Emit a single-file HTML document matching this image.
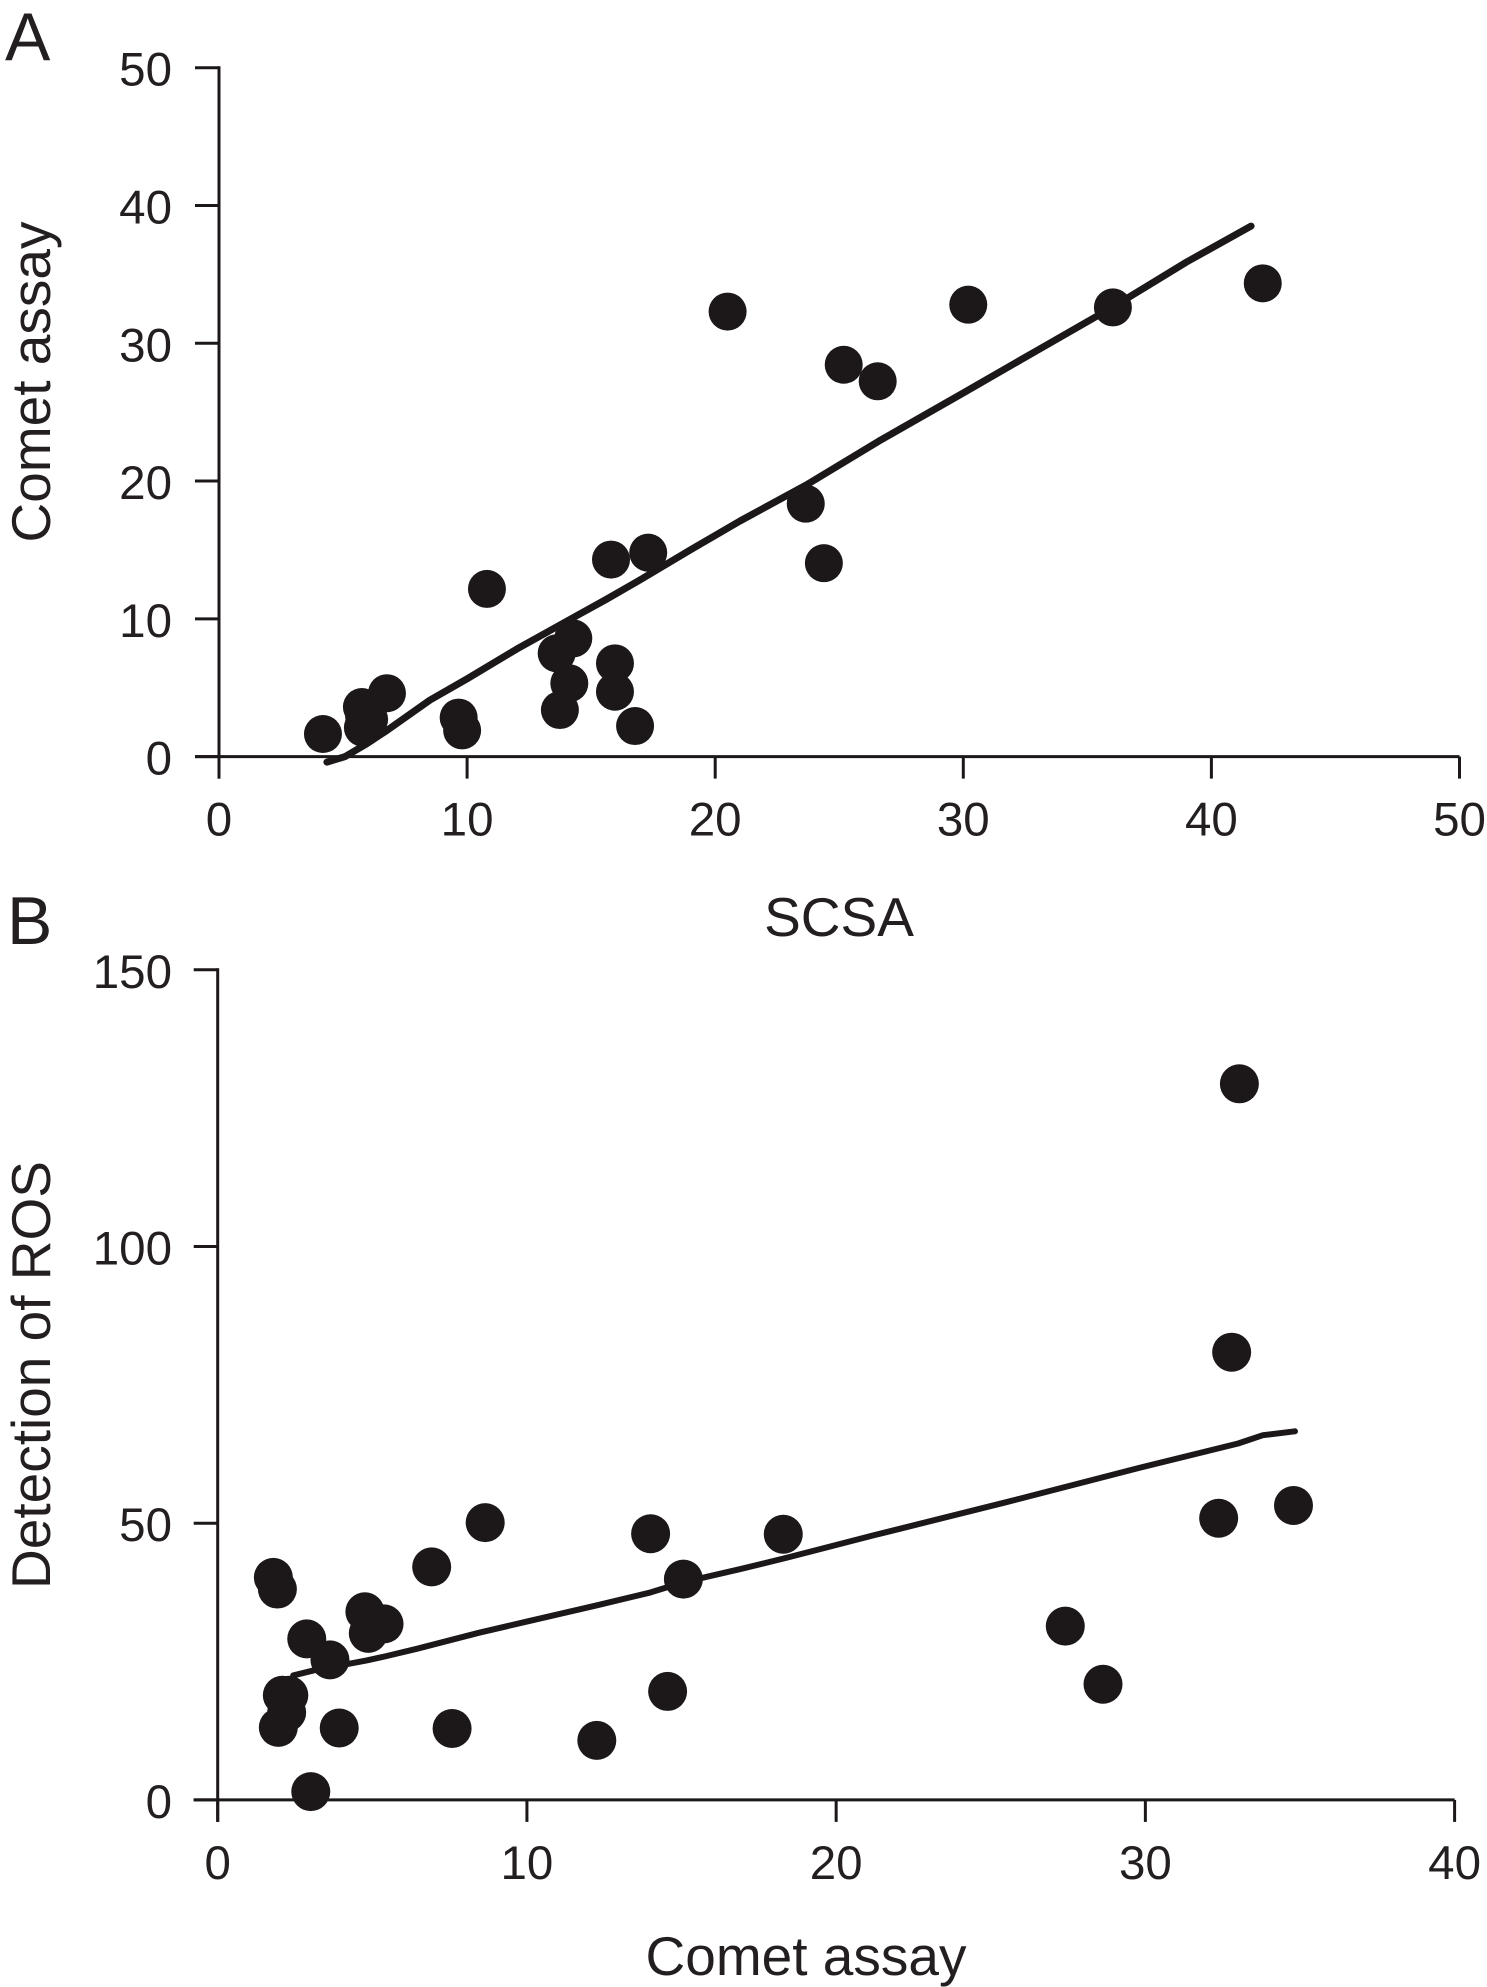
<!DOCTYPE html>
<html lang="en">
<head>
<meta charset="utf-8">
<title>Comet assay correlation scatter plots</title>
<style>
html,body{margin:0;padding:0;background:#fff;width:1487px;height:1987px;overflow:hidden}
svg{display:block}
text{font-family:"Liberation Sans",sans-serif;fill:#231f20}
</style>
</head>
<body>
<svg id="figure" xmlns="http://www.w3.org/2000/svg" width="1487" height="1987" viewBox="0 0 1487 1987">
  <rect width="1487" height="1987" fill="#ffffff"/>
  <g id="panel-a"></g>
  <g id="panel-b"></g>
  <text x="5" y="60" font-size="68">A</text>
  <text x="7" y="944" font-size="68">B</text>
  <text x="839" y="936" font-size="55" text-anchor="middle">SCSA</text>
  <text transform="translate(50 382) rotate(-90)" font-size="55" text-anchor="middle">Comet assay</text>
  <text x="806" y="1975" font-size="55" text-anchor="middle">Comet assay</text>
  <text transform="translate(50 1375) rotate(-90)" font-size="55" text-anchor="middle">Detection of ROS</text>
</svg>
<script>
const aTicksX = [0, 10, 20, 30, 40, 50];
const aTicksY = [0, 10, 20, 30, 40, 50];
const aPointsX = [4.19, 5.76, 5.85, 5.8, 6.05, 6.77, 9.66, 9.8, 10.8, 13.61, 13.74, 14.12, 14.28, 15.8, 15.96, 15.96, 16.77, 17.3, 20.5, 23.65, 24.38, 25.18, 26.55, 30.2, 36.03, 42.07];
const aPointsY = [1.64, 3.6, 2.9, 2.1, 2.7, 4.6, 2.83, 1.9, 12.17, 7.5, 3.38, 5.32, 8.58, 14.3, 6.77, 4.71, 2.22, 14.8, 32.3, 18.36, 14.04, 28.44, 27.24, 32.8, 32.6, 34.35];
const aLineX = [4.35, 5.08, 5.88, 6.77, 8.5, 10, 12, 14.14, 15.6, 17.04, 19, 21, 23.65, 26.6, 30, 33, 36, 39, 41.6];
const aLineY = [-0.4, 0, 0.85, 1.9, 4.1, 5.65, 7.8, 9.95, 11.4, 12.9, 15.0, 17.1, 19.7, 22.9, 26.4, 29.5, 32.6, 35.9, 38.5];

const bTicksX = [0, 10, 20, 30, 40];
const bTicksY = [0, 50, 100, 150];
const bPointsX = [1.8, 1.93, 2.88, 3.63, 2.09, 2.3, 2.23, 1.96, 3.93, 3.01, 4.76, 4.87, 5.38, 6.92, 8.65, 7.58, 12.26, 14.0, 14.55, 15.06, 18.29, 27.41, 28.63, 32.37, 34.79, 32.79, 33.04];
const bPointsY = [40.2, 38.1, 29.1, 25.3, 18.9, 18.9, 15.8, 13.1, 13.0, 1.5, 34.0, 30.1, 31.8, 42.1, 50.1, 12.9, 10.75, 48.1, 19.6, 39.9, 48.0, 31.4, 20.9, 50.9, 53.2, 80.9, 129.4];
const bLineX = [2.44, 3.1, 4.82, 5.47, 6.44, 8.44, 9.98, 12.3, 14.0, 15.1, 16.9, 18.43, 21.2, 25.5, 29.8, 33.0, 33.8, 34.84];
const bLineY = [22.5, 23.4, 25.2, 26.0, 27.3, 30.2, 32.2, 35.2, 37.5, 39.4, 41.7, 43.8, 47.8, 53.8, 60.0, 64.4, 65.9, 66.6];

const NS = 'http://www.w3.org/2000/svg';
const INK = '#1c1819';

function makeEl(parent, tag, props) {
  const el = document.createElementNS(NS, tag);
  for (const key in props) el.setAttribute(key, props[key]);
  parent.appendChild(el);
  return el;
}

function linear(d0, d1, r0, r1) {
  return function (v) { return r0 + (v - d0) * (r1 - r0) / (d1 - d0); };
}

function drawPanel(id, sx, sy, ticksX, ticksY, px, py, lx, ly, dotR, lineW) {
  const root = document.getElementById(id);
  const x0 = sx(ticksX[0]);
  const x1 = sx(ticksX[ticksX.length - 1]);
  const y0 = sy(ticksY[0]);
  const y1 = sy(ticksY[ticksY.length - 1]);

  const xAxis = makeEl(root, 'line', {x1: x0 - 24, y1: y0, x2: x1, y2: y0, stroke: INK, 'stroke-width': 3});
  
  
  const yAxis = makeEl(root, 'line', {x1: x0, y1: y1 - 1.5, x2: x0, y2: y0 + 22, stroke: INK, 'stroke-width': 3});
  
  

  ticksX.forEach(function (t) {
    const tick = makeEl(root, 'line', {x1: sx(t), y1: y0, x2: sx(t), y2: y0 + 22, stroke: INK, 'stroke-width': 3});
    
    
    const label = makeEl(root, 'text', {x: sx(t), y: y0 + 79, 'font-size': 47.5, 'text-anchor': 'middle'});
    label.textContent = String(t);
    
    
  });

  ticksY.forEach(function (t) {
    const tick = makeEl(root, 'line', {x1: x0 - 24, y1: sy(t), x2: x0, y2: sy(t), stroke: INK, 'stroke-width': 3});
    
    
    const label = makeEl(root, 'text', {x: 172, y: sy(t) + 18, 'font-size': 47.5, 'text-anchor': 'end'});
    label.textContent = String(t);
    
    
  });

  let d = '';
  lx.forEach(function (v, i) {
    d += (i ? 'L' : 'M') + sx(v).toFixed(1) + ' ' + sy(ly[i]).toFixed(1);
  });
  const trend = makeEl(root, 'path', {d: d, fill: 'none', stroke: INK, 'stroke-width': lineW, 'stroke-linejoin': 'round', 'stroke-linecap': 'round'});
  
  

  px.forEach(function (v, i) {
    const dot = makeEl(root, 'circle', {cx: sx(v), cy: sy(py[i]), r: dotR, fill: INK});
    
    
  });
}

drawPanel('panel-a',
  linear(0, 50, 219, 1459.5), linear(0, 50, 756.6, 67.7),
  aTicksX, aTicksY, aPointsX, aPointsY, aLineX, aLineY, 19, 7);

drawPanel('panel-b',
  linear(0, 40, 217.7, 1454.6), linear(0, 150, 1799.9, 969.8),
  bTicksX, bTicksY, bPointsX, bPointsY, bLineX, bLineY, 19.5, 6);
</script>
</body>
</html>
